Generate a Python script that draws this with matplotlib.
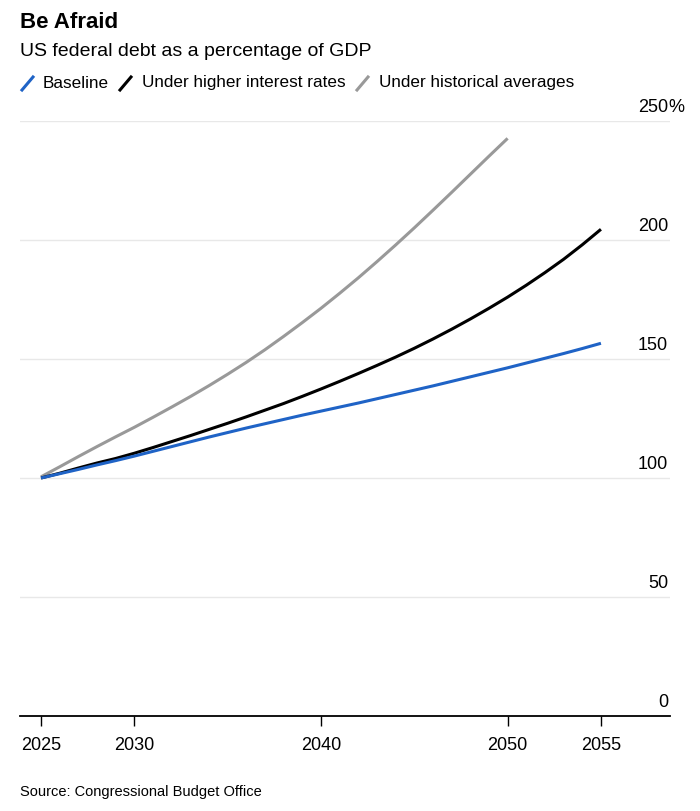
import matplotlib
matplotlib.use("Agg")
import matplotlib.pyplot as plt
from matplotlib.lines import Line2D
from matplotlib.transforms import blended_transform_factory

plt.rcParams['font.family'] = ['Liberation Sans', 'DejaVu Sans']

years = list(range(2025, 2056))
baseline = [100.0, 101.8, 103.6, 105.5, 107.3, 109.2, 111.2, 113.2, 115.2, 117.2,
            119.1, 121.0, 122.8, 124.6, 126.4, 128.1, 129.8, 131.5, 133.3, 135.1,
            136.9, 138.7, 140.6, 142.5, 144.4, 146.3, 148.3, 150.3, 152.3, 154.4,
            156.6]
higher_rates = [100.0, 102.0, 104.2, 106.3, 108.2, 110.4, 112.8, 115.3, 117.8, 120.4,
                123.0, 125.7, 128.5, 131.3, 134.3, 137.4, 140.6, 143.9, 147.3, 150.8,
                154.5, 158.4, 162.5, 166.8, 171.3, 176.0, 181.0, 186.3, 191.9, 198.0,
                204.5]
hist_years = list(range(2025, 2051))
hist_avg = [100.5, 104.7, 109.0, 113.2, 117.3, 121.3, 125.5, 129.8, 134.2, 138.8,
            143.6, 148.6, 153.9, 159.5, 165.3, 171.3, 177.6, 184.1, 190.9, 197.9,
            205.1, 212.5, 220.0, 227.6, 235.2, 242.7]

x_ticks = [2025, 2030, 2040, 2050, 2055]
y_ticks = [0, 50, 100, 150, 200, 250]

BLUE = '#1f63c6'
GRAY = '#999999'
BLACK = '#000000'

W, H = 700, 811
fig = plt.figure(figsize=(W / 100, H / 100), dpi=100)

def fx(px):
    return px / W

def fy(py):
    return 1 - py / H

ax_left, ax_right, ax_top, ax_bottom = 20, 670, 121, 716
ax = fig.add_axes([fx(ax_left), fy(ax_bottom), (ax_right - ax_left) / W, (ax_bottom - ax_top) / H])

ax.plot(hist_years, hist_avg, color=GRAY, lw=2.2, solid_capstyle='butt', zorder=3)
ax.plot(years, higher_rates, color=BLACK, lw=2.2, solid_capstyle='butt', zorder=4)
ax.plot(years, baseline, color=BLUE, lw=2.2, solid_capstyle='butt', zorder=5)

ax.set_xlim(2023.875, 2058.7)
ax.set_ylim(0, 250)

for s in ['top', 'right', 'left']:
    ax.spines[s].set_visible(False)
ax.spines['bottom'].set_linewidth(1.3)
ax.spines['bottom'].set_color('#000000')
ax.spines['bottom'].set_zorder(6)

ax.set_xticks(x_ticks)
ax.set_xticklabels([str(t) for t in x_ticks])
ax.tick_params(axis='x', direction='out', length=7, width=1, color='#000000',
               labelsize=13, pad=8, labelcolor='#000000')
ax.set_yticks(y_ticks)
ax.tick_params(axis='y', length=0, labelleft=False)
ax.yaxis.grid(True, color='#e8e8e8', lw=1)
ax.set_axisbelow(True)

trans = blended_transform_factory(ax.transAxes, ax.transData)
xr = (668 - ax_left) / (ax_right - ax_left)
for v in y_ticks:
    ax.annotate(str(v), xy=(xr, v), xycoords=trans, xytext=(0, 6.5),
                textcoords='offset points', ha='right', va='baseline',
                fontsize=13, color='#000000', annotation_clip=False)
ax.annotate('%', xy=(xr, 250), xycoords=trans, xytext=(0, 6.5),
            textcoords='offset points', ha='left', va='baseline',
            fontsize=13, color='#000000', annotation_clip=False)

fig.text(fx(20), fy(22), 'Be Afraid', fontsize=16, fontweight='bold', va='center', ha='left')
fig.text(fx(20), fy(52), 'US federal debt as a percentage of GDP', fontsize=14, va='center', ha='left')

legend_items = [(22, 43, 'Baseline', BLUE),
                (120, 142, 'Under higher interest rates', BLACK),
                (357, 379, 'Under historical averages', GRAY)]
for sx, tx, label, col in legend_items:
    fig.add_artist(Line2D([fx(sx), fx(sx + 11)], [fy(90), fy(77)], color=col, lw=2.2,
                          transform=fig.transFigure))
    fig.text(fx(tx), fy(83), label, fontsize=12.3, va='center', ha='left')

fig.text(fx(20), fy(792), 'Source: Congressional Budget Office', fontsize=10.5, va='center', ha='left')

fig.savefig('out.png', dpi=100, facecolor='white')
